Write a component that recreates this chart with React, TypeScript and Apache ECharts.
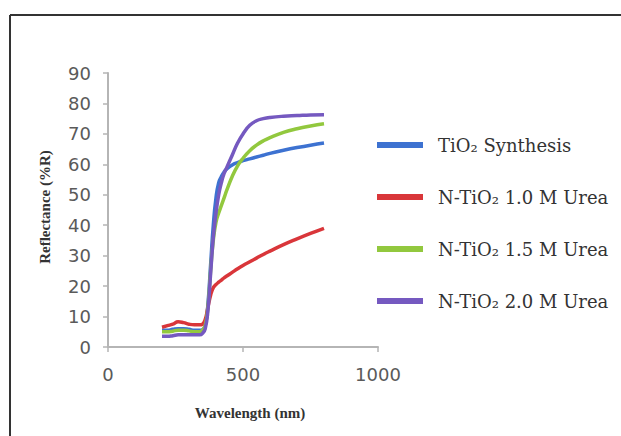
import React, { useEffect, useRef } from "react";
import * as echarts from "echarts";

const wavelengths = [200, 220, 240, 260, 280, 300, 320, 340, 350, 360, 370, 380, 390, 400, 410, 420, 430, 440, 460, 480, 500, 525, 550, 575, 600, 650, 700, 750, 800];
const tio2 = [5.5, 5.5, 5.8, 6, 6, 5.8, 5.5, 5.5, 5.7, 7, 14, 27, 40, 49, 54, 56, 57.5, 58.5, 59.8, 60.6, 61.2, 61.8, 62.4, 63, 63.6, 64.6, 65.5, 66.3, 67];
const urea10 = [6.5, 7, 7.5, 8.3, 8, 7.5, 7.3, 7.3, 7.5, 9, 13, 17, 19.5, 20.5, 21.3, 22, 22.7, 23.3, 24.5, 25.7, 26.8, 28, 29.2, 30.4, 31.5, 33.6, 35.5, 37.3, 39];
const urea15 = [5, 5, 5.2, 5.5, 5.5, 5.3, 5, 5, 5.5, 7, 13, 25, 35, 41, 44, 46.5, 49, 51.5, 56, 59.5, 62, 64.5, 66.3, 67.7, 68.8, 70.5, 71.7, 72.6, 73.3];
const urea20 = [3.5, 3.5, 3.7, 4, 4, 4, 4, 4, 4.5, 6, 12, 24, 36, 44, 50, 54, 57, 59, 63, 67, 70, 72.8, 74.3, 75, 75.4, 75.8, 76, 76.2, 76.3];

const seriesNames = ["TiO₂ Synthesis", "N-TiO₂ 1.0 M Urea", "N-TiO₂ 1.5 M Urea", "N-TiO₂ 2.0 M Urea"];
const seriesValues = [tio2, urea10, urea15, urea20];
const seriesColors = ["#3d72d1", "#d9363a", "#92c83e", "#7559c0"];

const xTitle = "Wavelength (nm)";
const yTitle = "Reflectance (%R)";

export default function App() {
  const ref = useRef<HTMLDivElement>(null);
  useEffect(() => {
    if (!ref.current) return;
    const chart = echarts.init(ref.current, undefined, { renderer: "svg" });
    const axisColor = "#b5b5b5";
    const labelColor = "#5a5a5a";
    chart.setOption({
      animation: false,
      backgroundColor: "#ffffff",
      grid: { left: 108, top: 73, width: 270, height: 274 },
      xAxis: {
        type: "value",
        min: 0,
        max: 1000,
        interval: 500,
        splitLine: { show: false },
        axisLine: { lineStyle: { color: axisColor, width: 2 } },
        axisTick: { show: true, length: 5, lineStyle: { color: axisColor, width: 1.5 } },
        axisLabel: { color: labelColor, fontFamily: "DejaVu Sans", fontSize: 18, margin: 18, formatter: (v: number) => String(v) },
      },
      yAxis: {
        type: "value",
        min: 0,
        max: 90,
        interval: 10,
        splitLine: { show: false },
        axisLine: { show: true, lineStyle: { color: axisColor, width: 2 } },
        axisTick: { show: true, length: 5, lineStyle: { color: axisColor, width: 1.5 } },
        axisLabel: { color: labelColor, fontFamily: "DejaVu Sans", fontSize: 18, margin: 17 },
      },
      legend: {
        orient: "vertical",
        left: 372,
        top: 130,
        itemWidth: 46,
        itemHeight: 6,
        itemGap: 32,
        icon: "rect",
        data: seriesNames,
        textStyle: {
          fontFamily: "DejaVu Serif",
          fontSize: 18,
          color: "#333333",
          lineHeight: 20,
          padding: [0, 0, 0, 10],
        },
      },
      series: seriesNames.map((name, i) => ({
        name,
        type: "line",
        smooth: 0.5,
        showSymbol: false,
        symbol: "none",
        lineStyle: { color: seriesColors[i], width: 3.5 },
        itemStyle: { color: seriesColors[i] },
        data: wavelengths.map((w, j) => [w, seriesValues[i][j]]),
      })),
      graphic: [
        { type: "line", shape: { x1: 10, y1: 15, x2: 621, y2: 15 }, style: { stroke: "#333333", lineWidth: 2 } },
        { type: "line", shape: { x1: 10, y1: 15, x2: 10, y2: 436 }, style: { stroke: "#333333", lineWidth: 2 } },
        {
          type: "text",
          x: 250,
          y: 413,
          style: { text: xTitle, font: "bold 15px 'Liberation Serif'", fill: "#333333", textAlign: "center", textVerticalAlign: "middle" },
        },
        {
          type: "text",
          x: 45,
          y: 207,
          rotation: Math.PI / 2,
          style: { text: yTitle, font: "bold 15px 'Liberation Serif'", fill: "#333333", textAlign: "center", textVerticalAlign: "middle" },
        },
      ],
    });
    return () => chart.dispose();
  }, []);
  return <div ref={ref} style={{ position: "fixed", left: 0, top: 0, width: 621, height: 436 }} />;
}
